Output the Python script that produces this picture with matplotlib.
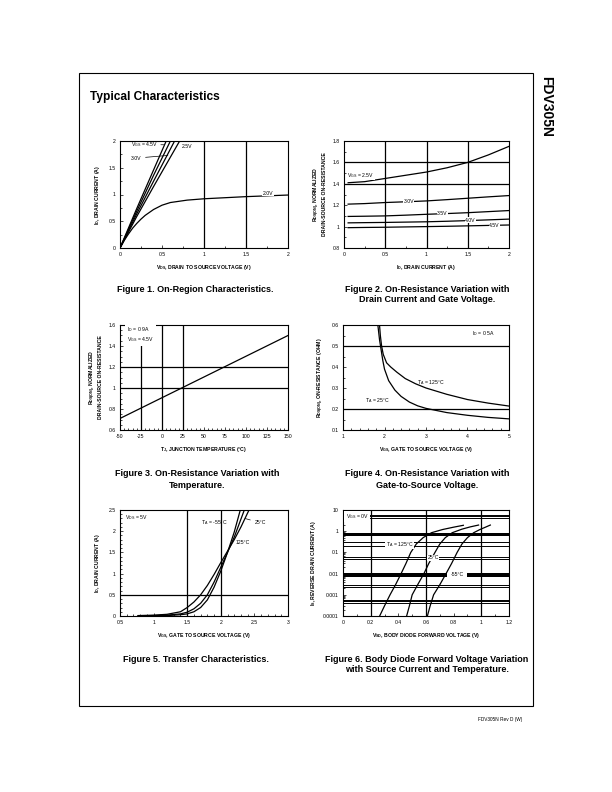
import matplotlib
matplotlib.use("Agg")
import matplotlib.pyplot as plt
from matplotlib.patches import Rectangle
from matplotlib.ticker import AutoMinorLocator, NullFormatter

plt.rcParams['font.family'] = ['Liberation Sans', 'DejaVu Sans']
plt.rcParams['mathtext.fontset'] = 'custom'
plt.rcParams['mathtext.rm'] = 'Liberation Sans'
plt.rcParams['mathtext.it'] = 'Liberation Sans:italic'
plt.rcParams['mathtext.bf'] = 'Liberation Sans:bold'
plt.rcParams['mathtext.default'] = 'regular'
plt.rcParams['axes.unicode_minus'] = False

# ---------------- data ----------------
# Fig 1: On-region characteristics (VDS, ID)
f1_vds_45 = [0, 0.2, 0.4, 0.55]
f1_id_45 = [0, 0.74, 1.46, 2.0]
f1_vds_35 = [0, 0.2, 0.4, 0.60]
f1_id_35 = [0, 0.69, 1.36, 2.0]
f1_vds_30 = [0, 0.2, 0.4, 0.65]
f1_id_30 = [0, 0.64, 1.25, 2.0]
f1_vds_25 = [0, 0.2, 0.4, 0.71]
f1_id_25 = [0, 0.59, 1.15, 2.0]
f1_vds_20 = [0, 0.05, 0.1, 0.15, 0.2, 0.25, 0.3, 0.4, 0.5, 0.6, 0.8, 1.0, 1.25, 1.5, 1.75, 2.0]
f1_id_20 = [0, 0.14, 0.26, 0.37, 0.46, 0.54, 0.61, 0.72, 0.80, 0.85, 0.895, 0.92, 0.94, 0.96, 0.975, 0.99]

# Fig 2: normalized RDS(on) vs ID
f2_id = [0.05, 0.25, 0.5, 0.75, 1.0, 1.25, 1.5, 1.75, 2.0]
f2_r_25 = [1.41, 1.42, 1.45, 1.48, 1.51, 1.55, 1.60, 1.67, 1.75]
f2_r_30 = [1.21, 1.215, 1.225, 1.232, 1.24, 1.252, 1.265, 1.278, 1.29]
f2_r_35 = [1.095, 1.097, 1.10, 1.107, 1.115, 1.122, 1.13, 1.14, 1.15]
f2_r_40 = [1.035, 1.037, 1.039, 1.042, 1.045, 1.05, 1.056, 1.063, 1.07]
f2_r_45 = [0.99, 0.992, 0.994, 0.997, 1.0, 1.003, 1.007, 1.011, 1.015]

# Fig 3: normalized RDS(on) vs TJ
f3_tj = [-50, 150]
f3_r = [0.71, 1.50]

# Fig 4: RDS(on) vs VGS
f4_vgs_25 = [1.84, 1.88, 1.92, 1.96, 2.0, 2.1, 2.25, 2.4, 2.6, 2.8, 3.0, 3.5, 4.0, 4.5, 5.0]
f4_r_25 = [0.6, 0.53, 0.48, 0.43, 0.39, 0.335, 0.29, 0.26, 0.233, 0.215, 0.203, 0.183, 0.17, 0.16, 0.153]
f4_vgs_125 = [1.88, 1.9, 1.93, 1.97, 2.05, 2.15, 2.3, 2.5, 2.75, 3.0, 3.5, 4.0, 4.5, 5.0]
f4_r_125 = [0.6, 0.55, 0.5, 0.46, 0.42, 0.40, 0.375, 0.345, 0.32, 0.30, 0.27, 0.245, 0.228, 0.214]

# Fig 5: transfer characteristics
f5_vgs_m55 = [0.77, 1.0, 1.2, 1.4, 1.5, 1.6, 1.7, 1.8, 1.9, 2.0, 2.1, 2.2, 2.29]
f5_id_m55 = [0.0, 0.005, 0.01, 0.03, 0.05, 0.1, 0.2, 0.38, 0.68, 1.06, 1.5, 1.98, 2.5]
f5_vgs_25 = [0.77, 1.0, 1.2, 1.4, 1.5, 1.6, 1.7, 1.8, 1.9, 2.0, 2.1, 2.2, 2.35]
f5_id_25 = [0.005, 0.01, 0.02, 0.05, 0.09, 0.17, 0.3, 0.5, 0.8, 1.15, 1.5, 1.86, 2.5]
f5_vgs_125 = [0.77, 1.0, 1.2, 1.4, 1.5, 1.6, 1.7, 1.8, 1.9, 2.0, 2.1, 2.2, 2.3, 2.42]
f5_id_125 = [0.01, 0.02, 0.04, 0.1, 0.2, 0.33, 0.5, 0.72, 0.98, 1.26, 1.53, 1.8, 2.1, 2.5]

# Fig 6: body diode forward voltage
f6_vsd_125 = [0.265, 0.30, 0.34, 0.38, 0.42, 0.455, 0.49, 0.53, 0.58, 0.64, 0.72, 0.80, 0.87]
f6_is_125 = [1e-4, 3e-4, 1e-3, 3e-3, 1e-2, 3e-2, 0.1, 0.25, 0.5, 0.85, 1.2, 1.55, 1.9]
f6_vsd_25 = [0.46, 0.48, 0.50, 0.54, 0.585, 0.62, 0.665, 0.70, 0.74, 0.79, 0.86, 0.92, 0.98]
f6_is_25 = [1e-4, 3e-4, 1e-3, 3e-3, 1e-2, 3e-2, 0.1, 0.25, 0.5, 0.85, 1.25, 1.6, 1.95]
f6_vsd_m55 = [0.61, 0.63, 0.655, 0.70, 0.745, 0.785, 0.825, 0.86, 0.90, 0.945, 0.99, 1.03, 1.065]
f6_is_m55 = [1e-4, 3e-4, 1e-3, 3e-3, 1e-2, 3e-2, 0.1, 0.25, 0.5, 0.85, 1.2, 1.55, 1.95]
f6_thin_lines = [6, 5, 4, 0.3, 0.2, 0.06, 0.05, 0.003, 0.0024, 0.0006, 0.0005, 0.00043]

# ---------------- layout ----------------
W, H = 612, 792
fig = plt.figure(figsize=(W / 100, H / 100), dpi=100)

TICK_FS = 3.7
LAB_FS = 3.7
ANN_FS = 3.7
TITLE_FS = 6.5


def ax_at(x0, y0, x1, y1):
    ax = fig.add_axes([x0 / W, 1 - y1 / H, (x1 - x0) / W, (y1 - y0) / H])
    for s in ax.spines.values():
        s.set_linewidth(0.8)
    ax.tick_params(which='both', direction='in', labelsize=TICK_FS, pad=3,
                   width=0.5)
    ax.tick_params(which='major', length=2)
    ax.tick_params(which='minor', length=1.2)
    return ax


def ftext(x, y, s, **kw):
    fig.text(x / W, 1 - y / H, s, **kw)


BOX = dict(facecolor='white', edgecolor='none', pad=0.4)
GL = dict(color='black', lw=0.9)
LW = 0.9

# page frame
fig.patches.append(Rectangle((79 / W, 1 - 706 / H), (533 - 79) / W, (706 - 73) / H,
                             transform=fig.transFigure, fill=False, lw=0.8,
                             edgecolor='black'))
ftext(90, 97, "Typical Characteristics", fontsize=8.6, fontweight='bold',
      va='center', ha='left')
ftext(546, 106, "FDV305N", fontsize=10, fontweight='bold', rotation=-90,
      va='center', ha='center')
ftext(522, 720, "FDV305N Rev D (W)", fontsize=3.4, ha='right', va='center')

# ---------------- Figure 1 ----------------
ax = ax_at(120, 141, 288, 248)
ax.set_xlim(0, 2)
ax.set_ylim(0, 2)
ax.axvline(1.0, **GL)
ax.axvline(1.5, **GL)
for xs, ys in [(f1_vds_45, f1_id_45), (f1_vds_35, f1_id_35),
               (f1_vds_30, f1_id_30), (f1_vds_25, f1_id_25),
               (f1_vds_20, f1_id_20)]:
    ax.plot(xs, ys, color='black', lw=LW)
ax.set_xticks([0, 0.5, 1, 1.5, 2])
ax.set_xticklabels(["0", "0.5", "1", "1.5", "2"])
ax.set_yticks([0, 0.5, 1, 1.5, 2])
ax.set_yticklabels(["0", "0.5", "1", "1.5", "2"])
ax.xaxis.set_minor_locator(AutoMinorLocator(2))
ax.yaxis.set_minor_locator(AutoMinorLocator(2))
ax.annotate(r"V$_{GS}$ = 4.5V", xy=(0.52, 1.93), xytext=(0.13, 1.93),
            fontsize=ANN_FS, va='center', ha='left',
            arrowprops=dict(arrowstyle='-', lw=0.5, shrinkA=0, shrinkB=0))
ax.annotate("3.0V", xy=(0.57, 1.73), xytext=(0.13, 1.68), fontsize=ANN_FS,
            va='center', ha='left',
            arrowprops=dict(arrowstyle='-', lw=0.5, shrinkA=1, shrinkB=0))
ax.text(0.74, 1.9, "2.5V", fontsize=ANN_FS, va='center', ha='left')
ax.annotate("2.0V", xy=(1.95, 0.99), xytext=(1.7, 1.02), fontsize=ANN_FS,
            va='center', ha='left', bbox=BOX)
ax.set_xlabel(r"V$_{DS}$, DRAIN TO SOURCE VOLTAGE (V)", fontsize=LAB_FS,
              fontweight='bold', labelpad=4)
ax.set_ylabel(r"I$_D$, DRAIN CURRENT (A)", fontsize=LAB_FS, fontweight='bold',
              labelpad=5)
ftext(195, 290, "Figure 1. On-Region Characteristics.", fontsize=TITLE_FS,
      fontweight='bold', ha='center', va='center')

# ---------------- Figure 2 ----------------
ax = ax_at(344, 141, 509, 248)
ax.set_xlim(0, 2)
ax.set_ylim(0.8, 1.8)
for v in [0.5, 1.0, 1.5]:
    ax.axvline(v, **GL)
for v in [1.4, 1.6]:
    ax.axhline(v, **GL)
for ys in [f2_r_25, f2_r_30, f2_r_35, f2_r_40, f2_r_45]:
    ax.plot(f2_id, ys, color='black', lw=LW)
ax.set_xticks([0, 0.5, 1, 1.5, 2])
ax.set_xticklabels(["0", "0.5", "1", "1.5", "2"])
ax.set_yticks([0.8, 1.0, 1.2, 1.4, 1.6, 1.8])
ax.set_yticklabels(["0.8", "1", "1.2", "1.4", "1.6", "1.8"])
ax.xaxis.set_minor_locator(AutoMinorLocator(2))
ax.yaxis.set_minor_locator(AutoMinorLocator(2))
ax.text(0.04, 1.48, r"V$_{GS}$ = 2.5V", fontsize=ANN_FS, va='center', ha='left',
        bbox=BOX)
ax.text(0.72, 1.235, "3.0V", fontsize=ANN_FS, va='center', ha='left', bbox=BOX)
ax.text(1.13, 1.118, "3.5V", fontsize=ANN_FS, va='center', ha='left', bbox=BOX)
ax.text(1.47, 1.06, "4.0V", fontsize=ANN_FS, va='center', ha='left', bbox=BOX)
ax.text(1.76, 1.01, "4.5V", fontsize=ANN_FS, va='center', ha='left', bbox=BOX)
ax.set_xlabel(r"I$_D$, DRAIN CURRENT (A)", fontsize=LAB_FS, fontweight='bold',
              labelpad=4)
ax.set_ylabel("R$_{DS(ON)}$, NORMALIZED\nDRAIN-SOURCE ON-RESISTANCE",
              fontsize=LAB_FS, fontweight='bold', labelpad=4, linespacing=1.1)
ftext(427, 290, "Figure 2. On-Resistance Variation with", fontsize=TITLE_FS,
      fontweight='bold', ha='center', va='center')
ftext(427, 300, "Drain Current and Gate Voltage.", fontsize=TITLE_FS,
      fontweight='bold', ha='center', va='center')

# ---------------- Figure 3 ----------------
ax = ax_at(120, 325, 288, 430)
ax.set_xlim(-50, 150)
ax.set_ylim(0.6, 1.6)
for v in [-25, 0, 25]:
    ax.axvline(v, **GL)
for v in [1.0, 1.2]:
    ax.axhline(v, **GL)
ax.plot(f3_tj, f3_r, color='black', lw=LW)
ax.set_xticks(list(range(-50, 151, 25)))
ax.set_yticks([0.6, 0.8, 1.0, 1.2, 1.4, 1.6])
ax.set_yticklabels(["0.6", "0.8", "1", "1.2", "1.4", "1.6"])
ax.xaxis.set_minor_locator(AutoMinorLocator(5))
ax.yaxis.set_minor_locator(AutoMinorLocator(4))
ax.text(-42, 1.51, "I$_D$ = 0.9A\nV$_{GS}$ = 4.5V", fontsize=ANN_FS, va='center',
        ha='left', linespacing=1.3,
        bbox=dict(facecolor='white', edgecolor='none', pad=1.2))
ax.set_xlabel("T$_J$, JUNCTION TEMPERATURE (°C)", fontsize=LAB_FS,
              fontweight='bold', labelpad=4)
ax.set_ylabel("R$_{DS(ON)}$, NORMALIZED\nDRAIN-SOURCE ON-RESISTANCE",
              fontsize=LAB_FS, fontweight='bold', labelpad=4, linespacing=1.1)
ftext(197, 474, "Figure 3. On-Resistance Variation with", fontsize=TITLE_FS,
      fontweight='bold', ha='center', va='center')
ftext(197, 485, "Temperature.", fontsize=TITLE_FS, fontweight='bold',
      ha='center', va='center')

# ---------------- Figure 4 ----------------
ax = ax_at(343, 325, 509, 430)
ax.set_xlim(1, 5)
ax.set_ylim(0.1, 0.6)
for v in [0.5, 0.2]:
    ax.axhline(v, **GL)
ax.plot(f4_vgs_25, f4_r_25, color='black', lw=LW)
ax.plot(f4_vgs_125, f4_r_125, color='black', lw=LW)
ax.set_xticks([1, 2, 3, 4, 5])
ax.set_yticks([0.1, 0.2, 0.3, 0.4, 0.5, 0.6])
ax.xaxis.set_minor_locator(AutoMinorLocator(5))
ax.yaxis.set_minor_locator(AutoMinorLocator(2))
ax.text(4.1, 0.56, "I$_D$ = 0.5A", fontsize=ANN_FS, va='center', ha='left')
ax.text(2.78, 0.325, "T$_A$ = 125°C", fontsize=ANN_FS, va='center', ha='left')
ax.text(1.52, 0.24, "T$_A$ = 25°C", fontsize=ANN_FS, va='center', ha='left')
ax.set_xlabel("V$_{GS}$, GATE TO SOURCE VOLTAGE (V)", fontsize=LAB_FS,
              fontweight='bold', labelpad=4)
ax.set_ylabel("R$_{DS(ON)}$, ON-RESISTANCE (OHM)", fontsize=LAB_FS,
              fontweight='bold', labelpad=4)
ftext(427, 474, "Figure 4. On-Resistance Variation with", fontsize=TITLE_FS,
      fontweight='bold', ha='center', va='center')
ftext(427, 485, "Gate-to-Source Voltage.", fontsize=TITLE_FS, fontweight='bold',
      ha='center', va='center')

# ---------------- Figure 5 ----------------
ax = ax_at(120, 510, 288, 616)
ax.set_xlim(0.5, 3)
ax.set_ylim(0, 2.5)
for v in [1.5, 2.0]:
    ax.axvline(v, **GL)
ax.axhline(0.5, **GL)
ax.plot(f5_vgs_m55, f5_id_m55, color='black', lw=LW)
ax.plot(f5_vgs_25, f5_id_25, color='black', lw=LW)
ax.plot(f5_vgs_125, f5_id_125, color='black', lw=LW)
ax.set_xticks([0.5, 1, 1.5, 2, 2.5, 3])
ax.set_xticklabels(["0.5", "1", "1.5", "2", "2.5", "3"])
ax.set_yticks([0, 0.5, 1, 1.5, 2, 2.5])
ax.set_yticklabels(["0", "0.5", "1", "1.5", "2", "2.5"])
ax.xaxis.set_minor_locator(AutoMinorLocator(5))
ax.yaxis.set_minor_locator(AutoMinorLocator(5))
ax.text(0.58, 2.32, "V$_{DS}$ = 5V", fontsize=ANN_FS, va='center', ha='left')
ax.text(1.7, 2.2, "T$_A$ = -55°C", fontsize=ANN_FS, va='center', ha='left')
ax.annotate("25°C", xy=(2.36, 2.3), xytext=(2.5, 2.2), fontsize=ANN_FS,
            va='center', ha='left',
            arrowprops=dict(arrowstyle='-', lw=0.5, shrinkA=1, shrinkB=0))
ax.text(2.22, 1.74, "125°C", fontsize=ANN_FS, va='center', ha='left')
ax.set_xlabel("V$_{GS}$, GATE TO SOURCE VOLTAGE (V)", fontsize=LAB_FS,
              fontweight='bold', labelpad=4)
ax.set_ylabel("I$_D$, DRAIN CURRENT (A)", fontsize=LAB_FS, fontweight='bold',
              labelpad=5)
ftext(196, 659, "Figure 5. Transfer Characteristics.", fontsize=TITLE_FS,
      fontweight='bold', ha='center', va='center')

# ---------------- Figure 6 ----------------
ax = ax_at(343, 510, 509, 616)
ax.set_yscale('log')
ax.set_xlim(0, 1.2)
ax.set_ylim(0.0001, 10)
for v in [0.2, 0.6, 1.0]:
    ax.axvline(v, **GL)
for v in f6_thin_lines:
    ax.axhline(v, color='black', lw=0.7)
ax.axhspan(0.6, 0.85, color='black', lw=0)
ax.axhspan(0.007, 0.0105, xmin=0, xmax=0.75 / 1.2, color='black', lw=0)
ax.axhspan(0.007, 0.0105, xmin=0.9 / 1.2, xmax=1, color='black', lw=0)
ax.plot(f6_vsd_125, f6_is_125, color='black', lw=LW)
ax.plot(f6_vsd_25, f6_is_25, color='black', lw=LW)
ax.plot(f6_vsd_m55, f6_is_m55, color='black', lw=LW)
ax.set_xticks([0, 0.2, 0.4, 0.6, 0.8, 1.0, 1.2])
ax.set_xticklabels(["0", "0.2", "0.4", "0.6", "0.8", "1", "1.2"])
ax.set_yticks([0.0001, 0.001, 0.01, 0.1, 1, 10])
ax.set_yticklabels(["0.0001", "0.001", "0.01", "0.1", "1", "10"])
ax.yaxis.set_minor_formatter(NullFormatter())
ax.xaxis.set_minor_locator(AutoMinorLocator(2))
ax.text(0.02, 5.0, "V$_{GS}$ = 0V", fontsize=ANN_FS, va='center', ha='left',
        bbox=dict(facecolor='white', edgecolor='none', pad=1.0))
ax.text(0.31, 0.245, "T$_A$ = 125°C", fontsize=ANN_FS, va='center', ha='left',
        bbox=BOX)
ax.text(0.61, 0.055, "25°C", fontsize=ANN_FS, va='center', ha='left', bbox=BOX)
ax.text(0.78, 0.0087, "-55°C", fontsize=ANN_FS, va='center', ha='left')
ax.set_xlabel("V$_{SD}$, BODY DIODE FORWARD VOLTAGE (V)", fontsize=LAB_FS,
              fontweight='bold', labelpad=4)
ax.set_ylabel("I$_S$, REVERSE DRAIN CURRENT (A)", fontsize=LAB_FS,
              fontweight='bold', labelpad=4)
ftext(427, 659, "Figure 6. Body Diode Forward Voltage Variation",
      fontsize=TITLE_FS, fontweight='bold', ha='center', va='center')
ftext(427, 670, "with Source Current and Temperature.", fontsize=TITLE_FS,
      fontweight='bold', ha='center', va='center')

fig.savefig("out.png", dpi=100)
